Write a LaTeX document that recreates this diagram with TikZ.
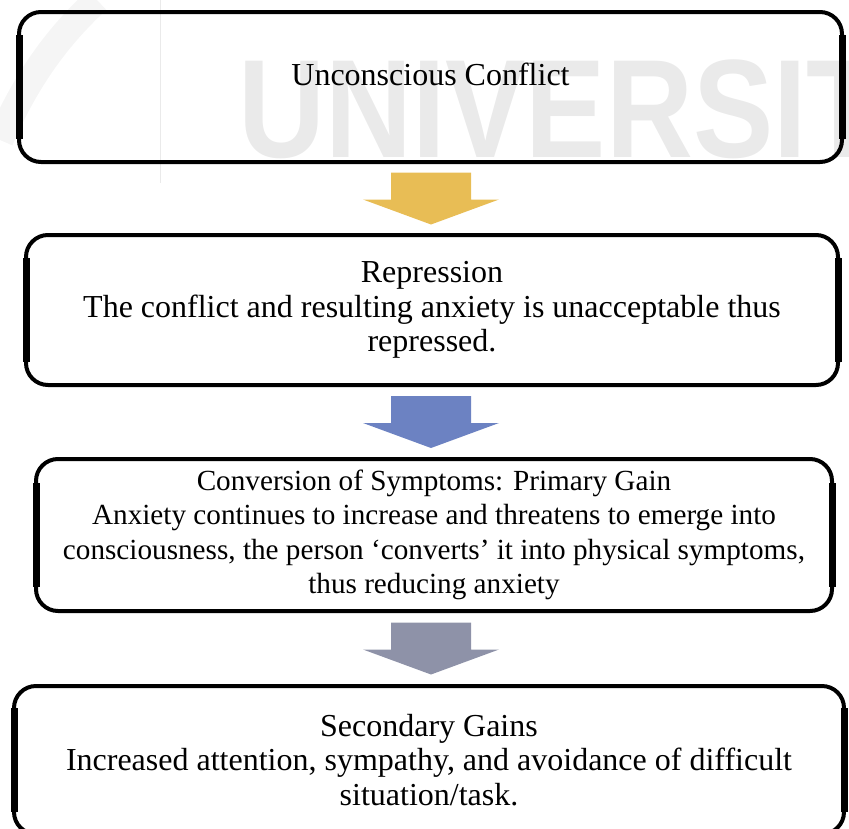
\documentclass[tikz,border=0pt]{standalone}
\usepackage{fontspec}
\setmainfont{Liberation Serif}
\newfontfamily\wmfont{Liberation Sans}
\usetikzlibrary{calc}
\definecolor{arrowgold}{RGB}{232,189,85}
\definecolor{arrowblue}{RGB}{108,130,194}
\definecolor{arrowgray}{RGB}{142,146,168}
\definecolor{wmgray}{RGB}{234,234,234}
\definecolor{wmlight}{RGB}{245,245,245}
\begin{document}
\begin{tikzpicture}[x=1pt,y=1pt,
  flowbox/.style={draw=black, line width=4pt, rounded corners=22pt, inner sep=0pt,
    outer sep=0pt, align=center, font=\fontsize{32}{34.5}\selectfont},
  boxtext/.style={inner sep=0pt, align=center, font=\fontsize{32}{34.5}\selectfont},
  sidebar/.style={line width=7pt, line cap=butt},
  downarrow/.pic={\path[pic actions] (-40,26) -- (40,26) -- (40,-1) -- (68,-1)
    -- (0,-26) -- (-68,-1) -- (-40,-1) -- cycle;},
]
\useasboundingbox (0,0) rectangle (849,-828);
\clip (0,0) rectangle (849,-828);

% background watermark
\draw[wmlight, line width=27pt] (0,-140) .. controls (30,-70) and (65,-30) .. (97,0);
\draw[wmgray, line width=1pt] (160,0) -- (160,-183);
\node[wmgray, anchor=base west, inner sep=0pt, xscale=0.86,
  font=\wmfont\bfseries\fontsize{140}{140}\selectfont] (wm) at (238,-157) {UNIVERSITAS};

% boxes
\node[flowbox, minimum width=823, minimum height=150] (b1) at (430.5,-87) {};
\node[boxtext, yshift=13pt] (t1) at (b1.center) {Unconscious Conflict};
\node[flowbox, minimum width=812, minimum height=150] (b2) at (432,-310)
  {Repression\\The conflict and resulting anxiety is unacceptable thus\\repressed.};
\node[flowbox, minimum width=796, minimum height=152,
  font=\fontsize{29.2}{34.5}\selectfont] (b3) at (434,-535)
  {Conversion of Symptoms: Primary Gain\\Anxiety continues to increase and threatens to emerge into\\consciousness, the person `converts' it into physical symptoms,\\thus reducing anxiety};
\node[flowbox, minimum width=830, minimum height=148] (b4) at (429,-760)
  {Secondary Gains\\Increased attention, sympathy, and avoidance of difficult\\situation/task.};

% heavier vertical sides
\foreach \b in {b1,b2,b3,b4}{
  \draw[sidebar] ([yshift=-52pt]\b.west) -- ([yshift=52pt]\b.west);
  \draw[sidebar] ([yshift=-52pt]\b.east) -- ([yshift=52pt]\b.east);
}

% block arrows between boxes
\coordinate (ax) at (431,0);
\path (b1.south) -- (b2.north) coordinate[pos=0.5] (m1);
\path (b2.south) -- (b3.north) coordinate[pos=0.5] (m2);
\path (b3.south) -- (b4.north) coordinate[pos=0.5] (m3);
\pic[fill=arrowgold] at (ax |- m1) {downarrow};
\pic[fill=arrowblue] at (ax |- m2) {downarrow};
\pic[fill=arrowgray] at (ax |- m3) {downarrow};
\end{tikzpicture}
\end{document}
